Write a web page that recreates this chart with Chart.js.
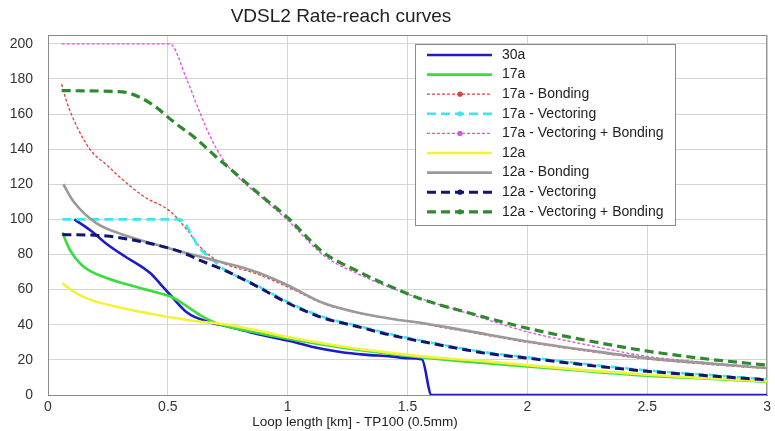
<!DOCTYPE html>
<html>
<head>
<meta charset="utf-8">
<script src="https://cdn.jsdelivr.net/npm/chart.js@4.4.1/dist/chart.umd.min.js"></script>
<style>
  html, body { margin: 0; padding: 0; background: #fff; }
  canvas { display: block; }
</style>
</head>
<body>
<canvas id="rateChart" width="775" height="431"></canvas>
<script>
/* DATA (km / Mbit/s) */
const seriesNames = [
  "30a", "17a", "17a - Bonding", "17a - Vectoring", "17a - Vectoring + Bonding",
  "12a", "12a - Bonding", "12a - Vectoring", "12a - Vectoring + Bonding"
];

const km30a   = [0.11, 0.175, 0.245, 0.32, 0.38, 0.43, 0.47, 0.51, 0.58, 0.66, 0.75, 0.85, 1.0, 1.1, 1.22, 1.32, 1.43, 1.5, 1.56, 1.6, 3.0];
const rate30a = [100, 94, 86, 79, 74, 69, 63, 57, 47, 42, 39, 35.5, 31, 27.5, 24.5, 23, 22, 21, 20.3, 0, 0];

const km17a   = [0.06, 0.09, 0.147, 0.245, 0.383, 0.45, 0.52, 0.58, 0.64, 0.7, 0.75, 0.85, 1.0, 1.25, 1.5, 1.75, 2.0, 2.25, 2.5, 2.75, 3.0];
const rate17a = [92.5, 83, 73.3, 66.6, 61, 58.5, 55.5, 50.5, 45, 41, 39, 36, 32, 26.5, 22.3, 19, 16.3, 13.5, 11, 9.3, 7.6];

const km17aB   = [0.057, 0.078, 0.12, 0.18, 0.245, 0.3, 0.4, 0.508, 0.58, 0.63, 0.7, 0.75, 0.87, 1.0, 1.15, 1.3, 1.5, 1.75, 2.0, 2.25, 2.5, 2.75, 3.0];
const rate17aB = [177, 167, 153, 139, 131, 124, 113, 104.8, 94, 85, 77, 74, 69, 61.5, 52, 46.5, 42, 36, 30, 25, 20.5, 17.5, 15];

const km17aV   = [0.06, 0.3, 0.55, 0.57, 0.6, 0.63, 0.67, 0.7, 0.73, 0.87, 1.0, 1.146, 1.29, 1.425, 1.63, 1.84, 2.0, 2.25, 2.5, 2.75, 3.0];
const rate17aV = [100, 100, 100, 98, 91, 84, 79, 75.5, 72, 62.5, 53, 44.5, 39.5, 34.8, 29, 24, 21.5, 17.5, 14, 11.5, 9];

const km17aVB   = [0.057, 0.508, 0.578, 0.633, 0.675, 0.724, 0.786, 0.9, 1.0, 1.15, 1.3, 1.5, 1.75, 2.0, 2.25, 2.5, 2.75, 3.0];
const rate17aVB = [200, 200, 180, 161, 147.6, 135.4, 125, 111.5, 99.5, 79.5, 68.5, 57.5, 46.5, 36, 28.5, 22, 18.5, 15.5];

const km12a   = [0.06, 0.105, 0.175, 0.31, 0.45, 0.62, 0.75, 0.9, 1.0, 1.22, 1.43, 1.6, 1.84, 2.0, 2.25, 2.5, 2.75, 3.0];
const rate12a = [63.8, 59, 54.3, 49.5, 45.7, 42, 40, 36, 33, 27.8, 24, 21.5, 19, 17, 14, 11.5, 9.5, 7.8];

const km12aB   = [0.064, 0.105, 0.2, 0.31, 0.45, 0.6, 0.7, 0.8, 0.9, 1.0, 1.146, 1.29, 1.45, 1.56, 1.75, 2.0, 2.25, 2.5, 2.75, 3.0];
const rate12aB = [120, 110.5, 98, 91.4, 85.7, 80, 76.5, 73, 68.5, 62.5, 52.5, 47, 43, 41, 36.5, 30.5, 25.5, 21, 18, 15.4];

const km12aV   = [0.06, 0.245, 0.38, 0.52, 0.59, 0.62, 0.73, 0.87, 1.0, 1.146, 1.29, 1.425, 1.63, 1.84, 2.0, 2.25, 2.5, 2.75, 3.0];
const rate12aV = [91.4, 90.5, 87.6, 83, 79.5, 77.5, 71.4, 62, 52.4, 44, 39, 34.3, 28.6, 23.5, 21, 17, 13.5, 11, 8.6];

const km12aVB   = [0.057, 0.31, 0.38, 0.45, 0.52, 0.62, 0.69, 0.786, 0.897, 1.0, 1.146, 1.3, 1.425, 1.56, 1.75, 2.0, 2.25, 2.5, 2.75, 3.0];
const rate12aVB = [173.3, 172.6, 169.7, 164, 156, 145.7, 137, 125.7, 112.6, 101, 81.5, 70, 62, 54.5, 47, 38, 31, 25, 20.5, 17];

const kmTicks   = [0, 0.5, 1, 1.5, 2, 2.5, 3];
const rateTicks = [0, 20, 40, 60, 80, 100, 120, 140, 160, 180, 200];

const seriesKm   = [km30a, km17a, km17aB, km17aV, km17aVB, km12a, km12aB, km12aV, km12aVB];
const seriesRate = [rate30a, rate17a, rate17aB, rate17aV, rate17aVB, rate12a, rate12aB, rate12aV, rate12aVB];

/* STYLES */
const lineStyles = [
  { color: "#1c1cc8", width: 2.6, dash: [],     marker: false },
  { color: "#3ddc3d", width: 2.6, dash: [],     marker: false },
  { color: "#e0403c", width: 1.3, dash: [3, 2], marker: true  },
  { color: "#40e4f0", width: 2.6, dash: [9, 5], marker: true  },
  { color: "#e050e0", width: 1.3, dash: [3, 2], marker: true  },
  { color: "#f2f23a", width: 2.6, dash: [],     marker: false },
  { color: "#9a9a9a", width: 2.6, dash: [],     marker: false },
  { color: "#141470", width: 3,   dash: [9, 5], marker: true  },
  { color: "#2e8a2e", width: 3.2, dash: [9, 5], marker: true  }
];

const FONT = "'Liberation Sans', Arial, sans-serif";

const datasets = seriesNames.map((name, i) => ({
  label: name,
  data: seriesKm[i].map((k, j) => ({ x: k, y: seriesRate[i][j] })),
  borderColor: lineStyles[i].color,
  borderWidth: lineStyles[i].width,
  borderDash: lineStyles[i].dash,
  pointRadius: 0,
  fill: false,
  cubicInterpolationMode: "monotone",
  order: seriesNames.length - i
}));

/* TITLES + BOX + LEGEND */
const decorPlugin = {
  id: "decor",
  beforeDatasetsDraw(chart) {
    const a = chart.chartArea;
    const ctx = chart.ctx;
    ctx.save();
    ctx.strokeStyle = "#8a8a8a";
    ctx.lineWidth = 1;
    ctx.strokeRect(a.left + 0.5, a.top + 0.5, a.right - a.left - 1, a.bottom - a.top);
    ctx.restore();
  },
  afterDraw(chart) {
    const ctx = chart.ctx;
    ctx.save();

    ctx.fillStyle = "#222";
    ctx.textAlign = "center";
    ctx.textBaseline = "middle";
    ctx.font = "19px " + FONT;
    ctx.fillText("VDSL2 Rate-reach curves", 341, 17);

    ctx.font = "13.5px " + FONT;
    ctx.fillText("Loop length [km] - TP100 (0.5mm)", 355, 422);

    /* legend box */
    const bx = 415, by = 44, bw = 260, bh = 181;
    ctx.fillStyle = "#fff";
    ctx.fillRect(bx, by, bw, bh);
    ctx.strokeStyle = "#8a8a8a";
    ctx.lineWidth = 1;
    ctx.strokeRect(bx + 0.5, by + 0.5, bw, bh);

    ctx.textAlign = "left";
    ctx.font = "14px " + FONT;
    seriesNames.forEach((name, i) => {
      const st = lineStyles[i];
      const y = 55 + i * 19.6;
      ctx.strokeStyle = st.color;
      ctx.lineWidth = st.width;
      ctx.setLineDash(st.dash);
      ctx.beginPath();
      ctx.moveTo(427, y);
      ctx.lineTo(492, y);
      ctx.stroke();
      ctx.setLineDash([]);
      if (st.marker) {
        ctx.fillStyle = st.color;
        ctx.beginPath();
        ctx.arc(460, y, 2.6, 0, Math.PI * 2);
        ctx.fill();
      }
      ctx.fillStyle = "#222";
      ctx.fillText(name, 502, y);
    });

    ctx.restore();
  }
};

new Chart(document.getElementById("rateChart"), {
  type: "line",
  data: { datasets },
  plugins: [decorPlugin],
  options: {
    responsive: false,
    animation: false,
    layout: { padding: { top: 35, right: 6, left: 0, bottom: 0 } },
    plugins: {
      legend: { display: false },
      tooltip: { enabled: false }
    },
    scales: {
      x: {
        type: "linear",
        min: 0,
        max: 3,
        afterBuildTicks: s => { s.ticks = kmTicks.map(v => ({ value: v })); },
        afterFit: s => { s.height = 36; },
        grid: { color: "#d4d4d4", drawTicks: false },
        border: { color: "#8a8a8a" },
        ticks: {
          padding: 4,
          color: "#333",
          font: { family: FONT, size: 14 },
          callback: v => String(v)
        }
      },
      y: {
        min: 0,
        max: 205,
        afterBuildTicks: s => { s.ticks = rateTicks.map(v => ({ value: v })); },
        afterFit: s => { s.width = 48; },
        grid: { color: "#d4d4d4", drawTicks: false },
        border: { color: "#8a8a8a" },
        ticks: {
          padding: 15,
          color: "#333",
          font: { family: FONT, size: 14 },
          callback: v => String(v)
        }
      }
    }
  }
});
</script>
</body>
</html>
